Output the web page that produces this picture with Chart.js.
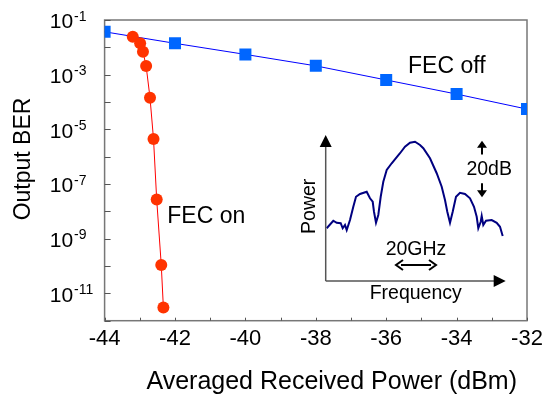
<!DOCTYPE html>
<html><head><meta charset="utf-8">
<script src="https://cdn.jsdelivr.net/npm/chart.js@4/dist/chart.umd.min.js"></script>
<style>
html,body{margin:0;padding:0;background:#fff;}
#wrap{position:relative;width:543px;height:396px;overflow:hidden;}
#main{position:absolute;left:0;top:0;}
#inset{position:absolute;left:290px;top:125px;}
</style></head><body>
<div id="wrap"><canvas id="main" width="543" height="396"></canvas><canvas id="inset" width="225" height="180"></canvas></div>
<script>
const FONT = "'Liberation Sans', Arial, Helvetica, sans-serif";

// ---- main chart data ----
const powerFecOff = [-44, -42, -40, -38, -36, -34, -32];
const berFecOff   = [3.7e-2, 1.4e-2, 5.5e-3, 2.1e-3, 6.4e-4, 1.95e-4, 5.5e-5];
const powerFecOn  = [-43.2, -42.99, -42.91, -42.82, -42.71, -42.61, -42.52, -42.39, -42.33];
const berFecOn    = [2.45e-2, 1.4e-2, 6.9e-3, 2.07e-3, 1.43e-4, 4.4e-6, 2.7e-8, 1.08e-10, 3.05e-12];
const xTickLabels = ['-44', '-42', '-40', '-38', '-36', '-34', '-32'];
const yTickExponents  = [-12, -11, -10, -9, -8, -7, -6, -5, -4, -3, -2, -1];
const yLabelExponents = [-1, -3, -5, -7, -9, -11];

// ---- inset spectrum data (frequency GHz, power dB) ----
const specFreq  = [-43.5, -40.2, -38.5, -36.5, -35.5, -34.35, -33.5, -31.85, -30.2, -28.85, -26.85, -23.5, -21.85, -20.5, -19.85, -18.85, -17.7, -16.5, -15.2, -13.5, -11.0, -6.85, -4.35, -1.85, 0.65, 3.15, 4.8, 8.15, 11.5, 14.0, 15.65, 16.8, 18.15, 19.5, 21.15, 23.15, 25.65, 28.15, 30.15, 31.5, 32.3, 33.5, 34.0, 34.8, 36.15, 39.0, 41.5, 43.15, 44.5];
const specPower = [-34.6, -31.6, -32.4, -32.6, -34.6, -33.3, -35.3, -31.3, -26.0, -22.0, -20.9, -20.0, -22.6, -24.0, -28.0, -32.4, -29.3, -22.0, -16.0, -11.3, -8.6, -4.6, -2.0, -0.4, 0.0, -1.3, -2.6, -6.6, -12.6, -18.0, -23.3, -28.0, -32.4, -28.0, -22.0, -20.4, -20.9, -22.6, -26.0, -30.0, -34.6, -32.0, -29.7, -33.3, -31.6, -31.3, -32.4, -34.0, -37.7];

// ---- annotation anchors (data coordinates) ----
const fecOnLabel  = {text: 'FEC on',  x: -42.22, logY: -8.42};
const fecOffLabel = {text: 'FEC off', x: -35.38, logY: -2.95};

const mainDecor = {
  id: 'mainDecor',
  beforeDatasetsDraw(chart) {
    const {ctx, chartArea: a, scales: {x, y}} = chart;
    ctx.save();
    ctx.strokeStyle = '#777';
    ctx.lineWidth = 1.5;
    ctx.strokeRect(a.left, a.top, a.right - a.left, a.bottom - a.top);
    ctx.lineWidth = 1;
    ctx.strokeStyle = '#555';
    x.ticks.forEach((t, i) => {
      const px = Math.round(x.getPixelForTick(i)) + 0.5;
      ctx.beginPath(); ctx.moveTo(px, a.bottom); ctx.lineTo(px, a.bottom - 3); ctx.stroke();
    });
    yTickExponents.forEach(e => {
      const py = Math.round(y.getPixelForValue(Math.pow(10, e))) + 0.5;
      ctx.beginPath(); ctx.moveTo(a.left, py); ctx.lineTo(a.left + 6, py); ctx.stroke();
    });
    ctx.restore();
  },
  afterDraw(chart) {
    const {ctx, chartArea: a, scales: {x, y}} = chart;
    ctx.save();
    ctx.fillStyle = '#000';
    // y tick labels with superscript exponents
    yLabelExponents.forEach(e => {
      const py = y.getPixelForValue(Math.pow(10, e));
      ctx.font = '21px ' + FONT;
      ctx.textAlign = 'right'; ctx.textBaseline = 'alphabetic';
      ctx.fillText('10', a.left - 31.5, py + 8.3);
      ctx.font = '14px ' + FONT;
      ctx.textAlign = 'left';
      ctx.fillText(String(e), a.left - 30.5, py + 0.7);
    });
    // axis titles
    ctx.font = '23px ' + FONT;
    ctx.textAlign = 'center'; ctx.textBaseline = 'middle';
    ctx.save();
    ctx.translate(24, 159);
    ctx.rotate(-Math.PI / 2);
    ctx.fillText('Output BER', 0, 0);
    ctx.restore();
    ctx.font = '25px ' + FONT;
    ctx.textBaseline = 'alphabetic';
    ctx.fillText('Averaged Received Power (dBm)', 331.7, 389);
    // series annotations
    ctx.font = '23px ' + FONT;
    ctx.textAlign = 'left';
    [fecOnLabel, fecOffLabel].forEach(l => {
      ctx.fillText(l.text, x.getPixelForValue(l.x), y.getPixelForValue(Math.pow(10, l.logY)));
    });
    ctx.restore();
  }
};

new Chart(document.getElementById('main'), {
  type: 'scatter',
  data: {
    datasets: [
      {
        label: 'FEC on',
        data: powerFecOn.map((p, i) => ({x: p, y: berFecOn[i]})),
        showLine: true,
        borderColor: '#ff0000',
        borderWidth: 1,
        pointStyle: 'circle',
        pointRadius: 6,
        pointBackgroundColor: '#ff3300',
        pointBorderColor: '#ff3300',
        pointBorderWidth: 0
      },
      {
        label: 'FEC off',
        data: powerFecOff.map((p, i) => ({x: p, y: berFecOff[i]})),
        showLine: true,
        borderColor: '#0000ff',
        borderWidth: 1,
        pointStyle: 'rect',
        pointRadius: 8.5,
        pointBackgroundColor: '#0066ff',
        pointBorderColor: '#0066ff',
        pointBorderWidth: 0
      }
    ]
  },
  options: {
    responsive: false,
    animation: false,
    devicePixelRatio: 1,
    layout: {padding: {top: 20, right: 16, left: 0, bottom: 0}},
    plugins: {legend: {display: false}, tooltip: {enabled: false}},
    scales: {
      x: {
        type: 'linear', min: -44, max: -32,
        afterFit: s => { s.height = 75.3; s.paddingLeft = 0; s.paddingRight = 0; },
        ticks: {
          stepSize: 1, autoSkip: false, maxRotation: 0, padding: 5,
          color: '#000', font: {family: FONT, size: 22},
          callback: v => (Math.round(v) % 2 === 0 ? xTickLabels[(Math.round(v) + 44) / 2] : '')
        },
        grid: {display: true, drawOnChartArea: false, drawTicks: false},
        border: {display: false}
      },
      y: {
        type: 'logarithmic', min: 1e-12, max: 1e-1,
        afterFit: s => { s.width = 104.6; s.paddingTop = 0; s.paddingBottom = 0; },
        afterBuildTicks: s => { s.ticks = yTickExponents.map(e => ({value: Math.pow(10, e)})); },
        ticks: {display: false},
        grid: {display: true, drawOnChartArea: false, drawTicks: false},
        border: {display: false}
      }
    }
  },
  plugins: [mainDecor]
});

// ---- inset ----
function tri(ctx, x1, y1, x2, y2, x3, y3) {
  ctx.beginPath(); ctx.moveTo(x1, y1); ctx.lineTo(x2, y2); ctx.lineTo(x3, y3); ctx.closePath(); ctx.fill();
}
function arrowV(ctx, x, yTail, yTip) {
  const d = yTip < yTail ? -1 : 1;
  ctx.beginPath(); ctx.moveTo(x, yTail); ctx.lineTo(x, yTip - d * 6); ctx.stroke();
  tri(ctx, x, yTip, x - 5, yTip - d * 7, x + 5, yTip - d * 7);
}
const insetAnno = {
  ghzArrow: {from: -8.85, to: 11.15, y: -49.3},
  ghzText: {text: '20GHz', x: 1.15, y: -45.3},
  dbText: {text: '20dB', x: 37.75, y: -13.3},
  dbUp: {x: 34.15, tail: -5.1, tip: 0.42},
  dbDown: {x: 34.15, tail: -16.6, tip: -22.2}
};
const insetDecor = {
  id: 'insetDecor',
  afterDraw(chart) {
    const {ctx, scales: {x, y}} = chart;
    const x0 = x.left, y0 = y.bottom, xTip = x.right, yTip = y.top;
    ctx.save();
    ctx.strokeStyle = '#555'; ctx.lineWidth = 1.5;
    ctx.beginPath(); ctx.moveTo(x0, y0); ctx.lineTo(x0, yTip + 10); ctx.stroke();
    ctx.beginPath(); ctx.moveTo(x0, y0); ctx.lineTo(xTip - 10, y0); ctx.stroke();
    ctx.fillStyle = '#000';
    tri(ctx, x0, yTip, x0 - 6, yTip + 12, x0 + 6, yTip + 12);
    tri(ctx, xTip, y0, xTip - 12, y0 - 6, xTip - 12, y0 + 6);
    // labels
    ctx.font = '19.5px ' + FONT;
    ctx.textAlign = 'center'; ctx.textBaseline = 'alphabetic';
    ctx.fillText('Frequency', (x.left + x.right) / 2, y0 + 18);
    ctx.save();
    ctx.translate(x0 - 10.4, (y.top + y.bottom) / 2 - 1.7);
    ctx.rotate(-Math.PI / 2);
    ctx.fillText('Power', 0, 0);
    ctx.restore();
    const a = insetAnno;
    ctx.fillText(a.ghzText.text, x.getPixelForValue(a.ghzText.x), y.getPixelForValue(a.ghzText.y));
    ctx.fillText(a.dbText.text, x.getPixelForValue(a.dbText.x), y.getPixelForValue(a.dbText.y));
    // arrows
    ctx.strokeStyle = '#000'; ctx.lineWidth = 2;
    const ay = y.getPixelForValue(a.ghzArrow.y);
    const ax1 = x.getPixelForValue(a.ghzArrow.from), ax2 = x.getPixelForValue(a.ghzArrow.to);
    ctx.beginPath(); ctx.moveTo(ax1 + 5, ay); ctx.lineTo(ax2 - 5, ay); ctx.stroke();
    ctx.beginPath(); ctx.moveTo(ax1 + 7, ay - 5); ctx.lineTo(ax1, ay); ctx.lineTo(ax1 + 7, ay + 5); ctx.stroke();
    ctx.beginPath(); ctx.moveTo(ax2 - 7, ay - 5); ctx.lineTo(ax2, ay); ctx.lineTo(ax2 - 7, ay + 5); ctx.stroke();
    arrowV(ctx, x.getPixelForValue(a.dbUp.x), y.getPixelForValue(a.dbUp.tail), y.getPixelForValue(a.dbUp.tip));
    arrowV(ctx, x.getPixelForValue(a.dbDown.x), y.getPixelForValue(a.dbDown.tail), y.getPixelForValue(a.dbDown.tip));
    ctx.restore();
  }
};
new Chart(document.getElementById('inset'), {
  type: 'line',
  data: {
    datasets: [{
      data: specFreq.map((f, i) => ({x: f, y: specPower[i]})),
      borderColor: '#000080',
      borderWidth: 2,
      pointRadius: 0,
      tension: 0,
      fill: false
    }]
  },
  options: {
    responsive: false,
    animation: false,
    devicePixelRatio: 1,
    layout: {padding: {left: 35.7, right: 9.3, top: 10, bottom: 24}},
    plugins: {legend: {display: false}, tooltip: {enabled: false}},
    scales: {
      x: {type: 'linear', display: false, min: -44, max: 46},
      y: {type: 'linear', display: false, min: -55.7, max: 2.7}
    }
  },
  plugins: [insetDecor]
});
</script>
</body></html>
